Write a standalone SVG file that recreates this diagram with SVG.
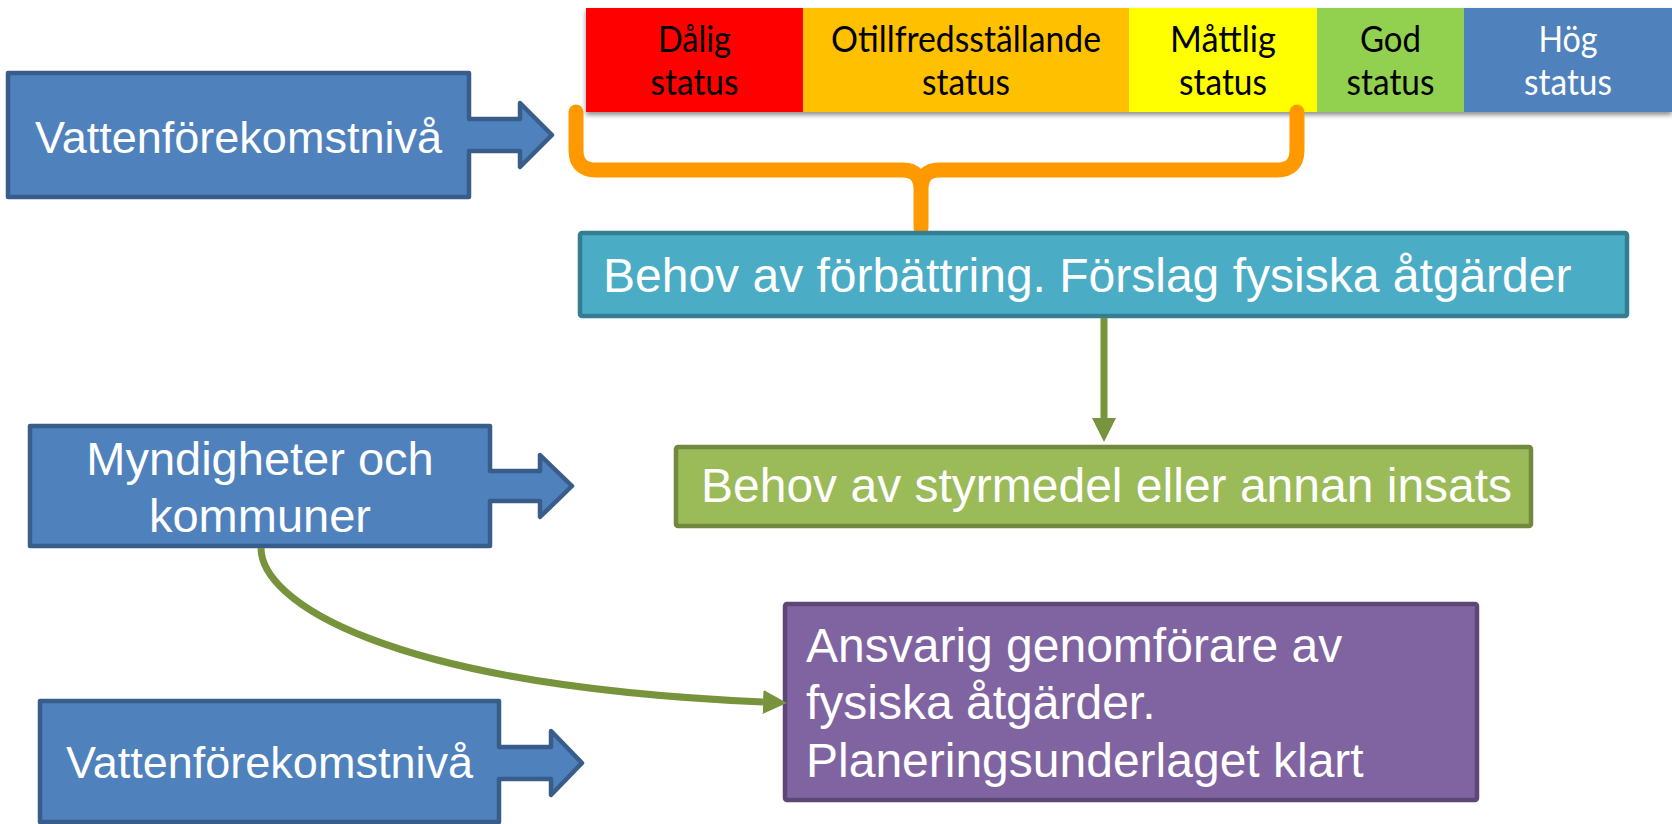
<svg xmlns="http://www.w3.org/2000/svg" width="1672" height="824" viewBox="0 0 1672 824">
<style>
.bl{fill:#4F81BD;stroke:#385D8A;stroke-width:4.5;stroke-linejoin:round}
.wt{font-family:"Liberation Sans",Arial,sans-serif;fill:#FFFFFF}
.st{font-family:Lato,"Open Sans",sans-serif;font-size:36px;text-anchor:middle;fill:#000000}
.con{fill:none;stroke:#77933C;stroke-width:7}
</style>
<defs>
<filter id="sh" x="-5%" y="-20%" width="110%" height="150%">
<feGaussianBlur in="SourceAlpha" stdDeviation="2.5"/>
<feOffset dx="0" dy="3" result="b"/>
<feComponentTransfer><feFuncA type="linear" slope="0.45"/></feComponentTransfer>
<feMerge><feMergeNode/><feMergeNode in="SourceGraphic"/></feMerge>
</filter>
<marker id="ah" markerUnits="userSpaceOnUse" markerWidth="24" markerHeight="24" viewBox="0 0 24 24" refX="0" refY="12" orient="auto">
<path d="M0,0 L24,12 L0,24 Z" fill="#77933C"/>
</marker>
</defs>
<rect width="1672" height="824" fill="#FFFFFF"/>

<g id="statusbar" filter="url(#sh)">
<rect x="586" y="8" width="217" height="104" fill="#FF0000"/>
<rect x="803" y="8" width="326" height="104" fill="#FFC000"/>
<rect x="1129" y="8" width="188" height="104" fill="#FFFF00"/>
<rect x="1317" y="8" width="147" height="104" fill="#92D050"/>
<rect x="1464" y="8" width="208" height="104" fill="#4F81BD"/>
</g>
<g id="status-labels">
<text class="st" x="694.5" y="52" textLength="73" lengthAdjust="spacingAndGlyphs">Dålig</text>
<text class="st" x="694.5" y="95" textLength="88" lengthAdjust="spacingAndGlyphs">status</text>
<text class="st" x="966" y="52" textLength="270" lengthAdjust="spacingAndGlyphs">Otillfredsställande</text>
<text class="st" x="966" y="95" textLength="88" lengthAdjust="spacingAndGlyphs">status</text>
<text class="st" x="1223" y="52" textLength="106" lengthAdjust="spacingAndGlyphs">Måttlig</text>
<text class="st" x="1223" y="95" textLength="88" lengthAdjust="spacingAndGlyphs">status</text>
<text class="st" x="1390.5" y="52" textLength="61" lengthAdjust="spacingAndGlyphs">God</text>
<text class="st" x="1390.5" y="95" textLength="88" lengthAdjust="spacingAndGlyphs">status</text>
<text class="st" x="1568" y="52" textLength="59" lengthAdjust="spacingAndGlyphs" style="fill:#FFFFFF">Hög</text>
<text class="st" x="1568" y="95" textLength="88" lengthAdjust="spacingAndGlyphs" style="fill:#FFFFFF">status</text>
</g>

<g id="brace">
<path d="M576,112 V150 Q576,170 596,170 H903 Q921,170 921,190 V228 M1297,112 V150 Q1297,170 1277,170 H939 Q921,170 921,190" fill="none" stroke="#FF9900" stroke-width="15" stroke-linecap="round" stroke-linejoin="round"/>
</g>

<g id="box-vatten1">
<path class="bl" d="M8,73 H469 V119 H520 V103 L552,135 L520,167 V151 H469 V197 H8 Z"/>
<text class="wt" x="238.5" y="153" font-size="45" text-anchor="middle">Vattenförekomstnivå</text>
</g>

<g id="box-myndigheter">
<path class="bl" d="M30,426 H490 V471 H540 V455 L572,486 L540,517 V501 H490 V546 H30 Z"/>
<text class="wt" x="260" y="475" font-size="47" text-anchor="middle">Myndigheter och</text>
<text class="wt" x="260" y="532" font-size="47" text-anchor="middle">kommuner</text>
</g>

<g id="box-vatten2">
<path class="bl" d="M40,701 H499 V747 H551 V731 L582,763 L551,795 V779 H499 V822 H40 Z"/>
<text class="wt" x="269.5" y="778" font-size="45" text-anchor="middle">Vattenförekomstnivå</text>
</g>

<g id="box-forbattring">
<rect x="580" y="233" width="1047" height="83" fill="#4BACC6" stroke="#357D91" stroke-width="4.5" rx="2"/>
<text class="wt" x="603" y="292" font-size="48">Behov av förbättring. Förslag fysiska åtgärder</text>
</g>

<g id="box-styrmedel">
<rect x="676" y="447" width="855" height="79" fill="#9BBB59" stroke="#71893F" stroke-width="4.5" rx="2"/>
<text class="wt" x="701" y="502" font-size="48">Behov av styrmedel eller annan insats</text>
</g>

<g id="box-ansvarig">
<rect x="785" y="604" width="692" height="196" fill="#8064A2" stroke="#5C4776" stroke-width="4.5" rx="2"/>
<text class="wt" x="806" y="662" font-size="48">Ansvarig genomförare av</text>
<text class="wt" x="806" y="719" font-size="48">fysiska åtgärder.</text>
<text class="wt" x="806" y="777" font-size="48">Planeringsunderlaget klart</text>
</g>

<g id="connectors">
<path class="con" d="M1104,318 V418" marker-end="url(#ah)"/>
<path class="con" d="M261,548 C261,600 380,685 763,702" marker-end="url(#ah)"/>
</g>
</svg>
